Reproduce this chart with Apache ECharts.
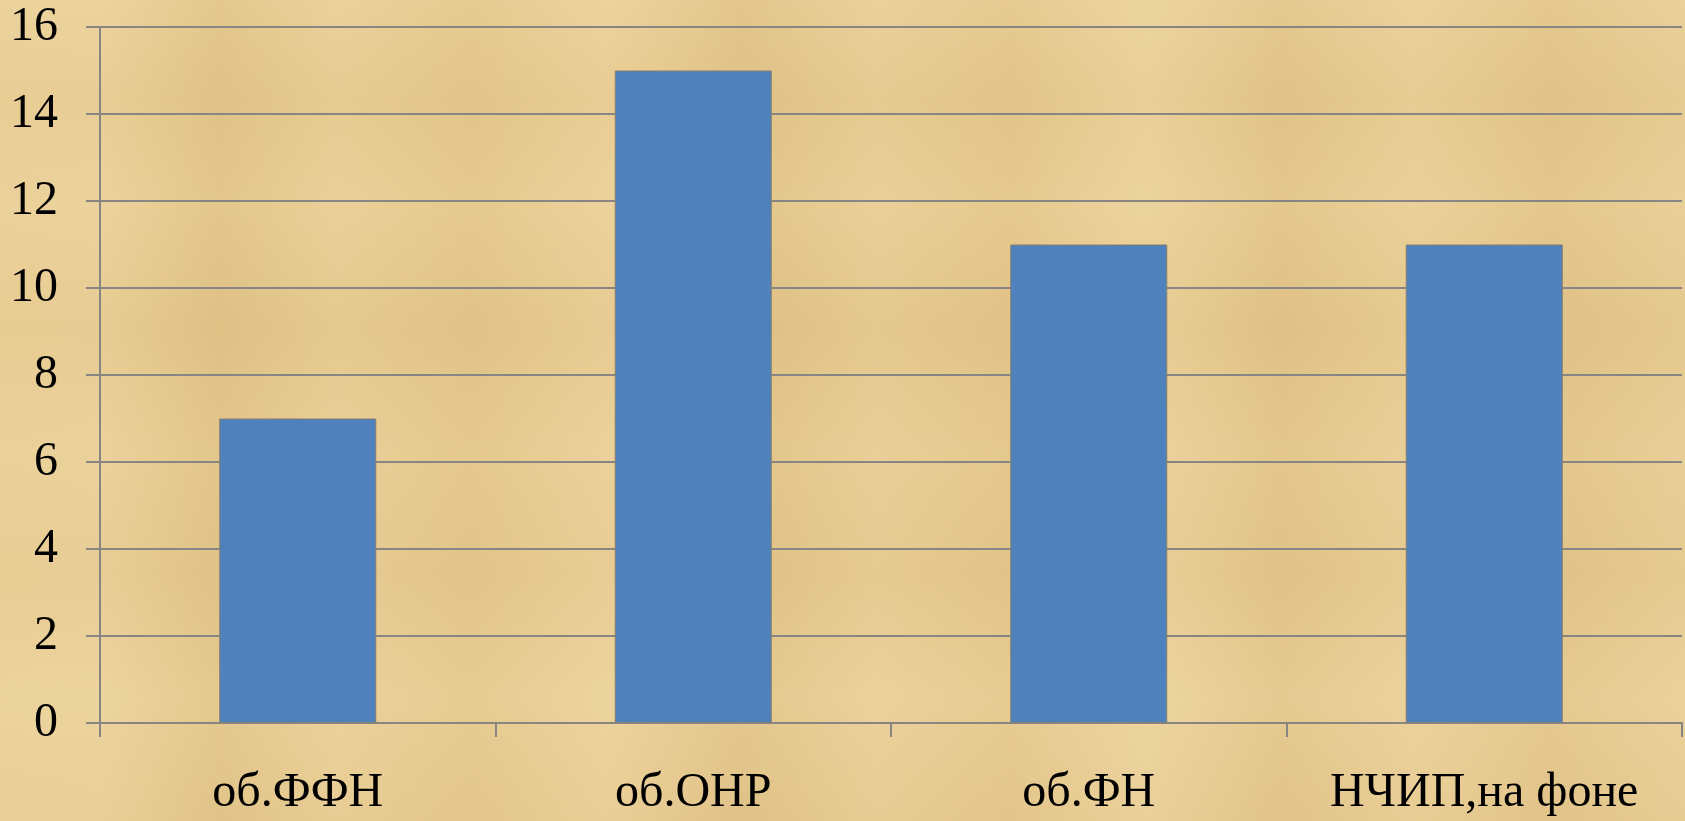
<!DOCTYPE html>
<html>
<head>
<meta charset="utf-8">
<script src="https://cdn.jsdelivr.net/npm/echarts@6/dist/echarts.min.js"></script>
<style>
  html, body { margin: 0; padding: 0; }
  body {
    width: 1685px; height: 821px; overflow: hidden;
    background-color: #e6cb93;
    background-image:
      linear-gradient(90deg,
        rgba(240,215,160,0.35) 0%, rgba(245,222,170,0.25) 6%, rgba(215,182,118,0.3) 13%,
        rgba(240,215,160,0.2) 20%, rgba(222,190,128,0.3) 28%, rgba(244,220,168,0.25) 36%,
        rgba(212,178,115,0.3) 44%, rgba(238,212,158,0.2) 52%, rgba(220,186,124,0.25) 60%,
        rgba(245,224,172,0.3) 68%, rgba(214,180,118,0.25) 76%, rgba(240,216,162,0.25) 84%,
        rgba(218,184,122,0.3) 92%, rgba(236,210,156,0.25) 100%),
      linear-gradient(180deg,
        rgba(242,218,166,0.3) 0%, rgba(218,186,124,0.2) 12%, rgba(240,214,160,0.25) 25%,
        rgba(214,180,118,0.25) 40%, rgba(238,212,158,0.2) 55%, rgba(220,188,126,0.25) 70%,
        rgba(244,222,170,0.3) 85%, rgba(226,196,136,0.25) 100%);
  }
  #chart { width: 1685px; height: 821px; }
</style>
</head>
<body>
<div id="chart"></div>
<script>
  const categories = ['об.ФФН', 'об.ОНР', 'об.ФН', 'НЧИП,на фоне'];
  const values = [7, 15, 11, 11];

  const chart = echarts.init(document.getElementById('chart'));

  const gridGray = '#878683';

  const option = {
    backgroundColor: 'transparent',
    animation: false,
    grid: {
      left: 100,
      right: 3,
      top: 27,
      bottom: 98,
      containLabel: false
    },
    xAxis: {
      type: 'category',
      data: categories,
      boundaryGap: true,
      axisLine: { lineStyle: { color: gridGray, width: 2 } },
      axisTick: {
        show: true,
        interval: 0,
        length: 14,
        alignWithLabel: false,
        lineStyle: { color: gridGray, width: 2 }
      },
      axisLabel: {
        interval: 0,
        hideOverlap: false,
        color: '#000',
        fontFamily: 'Liberation Serif',
        fontSize: 48,
        margin: 46
      }
    },
    yAxis: {
      type: 'value',
      min: 0,
      max: 16,
      interval: 2,
      axisLine: { show: true, lineStyle: { color: gridGray, width: 2 } },
      axisTick: {
        show: true,
        length: 14,
        lineStyle: { color: gridGray, width: 2 }
      },
      axisLabel: {
        color: '#000',
        fontFamily: 'Liberation Serif',
        fontSize: 48,
        margin: 42
      },
      splitLine: { lineStyle: { color: gridGray, width: 2 } }
    },
    series: [
      {
        type: 'bar',
        data: values,
        barWidth: '39.7%',
        itemStyle: {
          color: '#4f81bd',
          borderColor: '#857f6e',
          borderWidth: 1
        }
      }
    ]
  };

  chart.setOption(option);
</script>
</body>
</html>
